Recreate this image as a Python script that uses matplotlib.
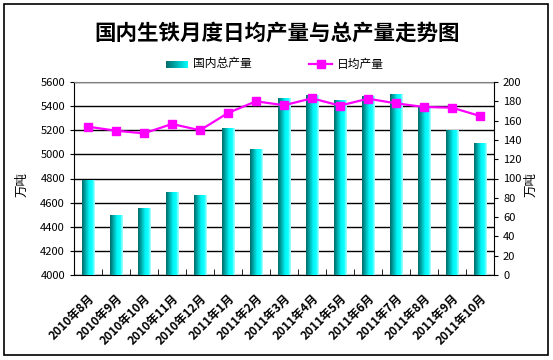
# ── 1. Packages ───────────────────────────────────────────────────────────────
import numpy as np
import matplotlib
matplotlib.use("Agg")
import matplotlib.pyplot as plt
from matplotlib.colors import LinearSegmentedColormap
from matplotlib.lines import Line2D
from matplotlib.patches import Rectangle

plt.rcParams['font.family'] = ['Noto Sans CJK SC', 'DejaVu Sans']

# ── 2. Data ───────────────────────────────────────────────────────────────────
months = ["2010年8月", "2010年9月", "2010年10月", "2010年11月", "2010年12月",
          "2011年1月", "2011年2月", "2011年3月", "2011年4月", "2011年5月",
          "2011年6月", "2011年7月", "2011年8月", "2011年9月", "2011年10月"]
total_output = [4785, 4495, 4553, 4682, 4658, 5213, 5042, 5465,
                5484, 5448, 5482, 5498, 5387, 5200, 5092]
daily_output = [153.7, 149.5, 146.8, 156.5, 150.0, 167.9, 180.0, 175.9,
                183.1, 175.5, 182.7, 177.9, 174.1, 173.4, 164.8]

left_ticks = [4000, 4200, 4400, 4600, 4800, 5000, 5200, 5400, 5600]
right_ticks = [0, 20, 40, 60, 80, 100, 120, 140, 160, 180, 200]

# ── 3. Figure ─────────────────────────────────────────────────────────────────
W, H = 553, 360
fig = plt.figure(figsize=(W / 100, H / 100), dpi=100)
fig.patch.set_facecolor("white")

# outer frame
fig.add_artist(Rectangle((4 / W, 1 - 355 / H), 544 / W, 351 / H,
                         transform=fig.transFigure, fill=False,
                         edgecolor="black", linewidth=1.2))

ax = fig.add_axes([74 / W, 1 - 275 / H, 420 / W, 193 / H])
ax2 = ax.twinx()

bar_cmap = LinearSegmentedColormap.from_list(
    "bar", [(0.0, "#006a6a"), (0.3, "#00b4b4"), (0.55, "#00f4f4"),
            (0.8, "#10ffff"), (1.0, "#b8ffff")])
grad = np.linspace(0, 1, 64).reshape(1, -1)

x = np.arange(len(months))
bw = 0.43
bars = ax.bar(x, np.array(total_output) - 4000, bottom=4000, width=bw,
              color="#00e0e0", zorder=2)
for b in bars:
    x0, y0 = b.get_x(), b.get_y()
    ax.imshow(grad, cmap=bar_cmap, aspect="auto", zorder=3,
              extent=[x0, x0 + b.get_width(), y0, y0 + b.get_height()])

ax.set_xlim(-0.5, len(months) - 0.5)
ax.set_ylim(4000, 5600)
ax.set_yticks(left_ticks)
ax.yaxis.grid(True, color="black", linewidth=1.0, zorder=0)
ax.set_axisbelow(True)

ax.set_xticks(x)
ax.set_xticklabels(months, rotation=45, ha="right", rotation_mode="anchor",
                   fontsize=8.5, fontweight="bold")
ax.set_xticks(np.arange(len(months) + 1) - 0.5, minor=True)
ax.tick_params(axis="x", which="major", length=0, pad=12)
ax.tick_params(axis="x", which="minor", length=4, direction="in")
ax.tick_params(axis="y", length=3, labelsize=8)

for side in ("left", "bottom"):
    ax.spines[side].set_color("black")
ax.spines["top"].set_color("#808080")
ax.spines["right"].set_visible(False)

ax2.plot(x, daily_output, color="#ff00ff", linewidth=1.6, marker="s",
         markersize=6, zorder=5)
ax2.set_ylim(0, 200)
ax2.set_yticks(right_ticks)
ax2.tick_params(axis="y", length=3, labelsize=8)
ax2.spines["right"].set_color("black")
ax2.spines["top"].set_visible(False)
ax2.spines["left"].set_visible(False)
ax2.spines["bottom"].set_visible(False)

# axis titles
fig.text(22 / W, 1 - 185 / H, "万吨", rotation=90, ha="center", va="center",
         fontsize=9)
fig.text(531 / W, 1 - 185 / H, "万吨", rotation=90, ha="center", va="center",
         fontsize=9)

# ── 4. Title and legend ───────────────────────────────────────────────────────
fig.text(277 / W, 1 - 33 / H, "国内生铁月度日均产量与总产量走势图",
         ha="center", va="center", fontsize=15.5, fontweight="bold")

kax = fig.add_axes([166 / W, 1 - 68 / H, 22 / W, 7 / H])
kax.imshow(grad, cmap=LinearSegmentedColormap.from_list(
    "key", ["#006a6a", "#00ffff"]), aspect="auto")
kax.axis("off")
fig.text(193 / W, 1 - 64 / H, "国内总产量", ha="left", va="center", fontsize=8.5)

ly = 1 - 64 / H
fig.add_artist(Line2D([309 / W, 332 / W], [ly, ly], transform=fig.transFigure,
                      color="#ff00ff", linewidth=1.6))
fig.add_artist(Line2D([320.5 / W], [ly], transform=fig.transFigure,
                      color="#ff00ff", marker="s", markersize=6))
fig.text(337 / W, ly, "日均产量", ha="left", va="center", fontsize=8.5)

fig.savefig("out.png", dpi=100)
